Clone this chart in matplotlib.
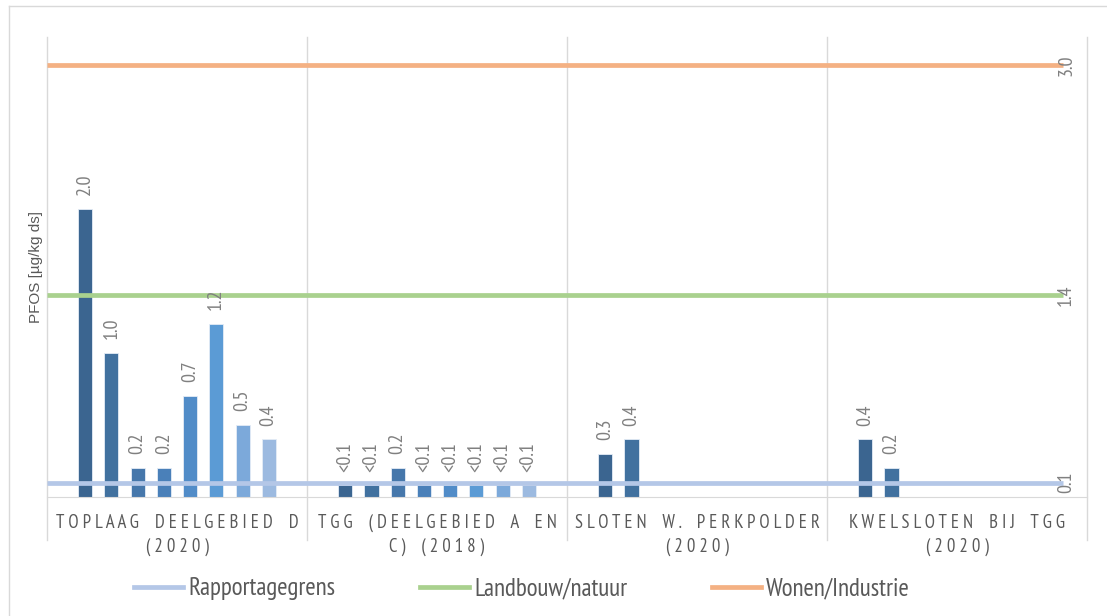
import numpy as np
import matplotlib
matplotlib.use('Agg')
import matplotlib.pyplot as plt
from matplotlib.lines import Line2D

narrow = ['PT Sans Narrow', 'Liberation Sans Narrow', 'Liberation Sans', 'DejaVu Sans']
plt.rcParams['font.family'] = narrow

categories = ['TOPLAAG DEELGEBIED D\n(2020)', 'TGG (DEELGEBIED A EN\nC) (2018)',
              'SLOTEN W. PERKPOLDER\n(2020)', 'KWELSLOTEN BIJ TGG\n(2020)']
# bar values per category (one entry per monster / series)
values = [
    [2.0, 1.0, 0.2, 0.2, 0.7, 1.2, 0.5, 0.4],
    [0.08, 0.08, 0.2, 0.08, 0.08, 0.08, 0.08, 0.08],
    [0.3, 0.4],
    [0.4, 0.2],
]
labels = [
    ['2.0', '1.0', '0.2', '0.2', '0.7', '1.2', '0.5', '0.4'],
    ['<0.1', '<0.1', '0.2', '<0.1', '<0.1', '<0.1', '<0.1', '<0.1'],
    ['0.3', '0.4'],
    ['0.4', '0.2'],
]
thresholds = [0.1, 1.4, 3.0]
threshold_names = ['Rapportagegrens', 'Landbouw/natuur', 'Wonen/Industrie']
threshold_labels = ['0.1', '1.4', '3.0']

bar_colors = ['#3B6590', '#41719F', '#4677AB', '#4A80B9', '#518CC8', '#5B9BD5', '#7CA9DA', '#9CBAE0']
line_colors = ['#B4C7E7', '#A9D18E', '#F4B183']
grid_col = '#D9D9D9'

fig = plt.figure(figsize=(11.07, 6.16), dpi=100)
ax = fig.add_axes([47/1107, 1-497/616, 1040/1107, 460/616])

slot = 0.1008
bw = 0.054
for i, vals in enumerate(values):
    for j, v in enumerate(vals):
        x = i + (j - 3.5) * slot
        ax.bar(x, v, width=bw, color=bar_colors[j], edgecolor='#E4ECF6', linewidth=0.6, zorder=2)
        ax.annotate(labels[i][j], (x, v), xytext=(0, 10), textcoords='offset points',
                    rotation=90, ha='center', va='bottom', fontsize=14.5, color='#808080',
                    zorder=5)

for y, c, lab in zip(thresholds, line_colors, threshold_labels):
    ax.hlines(y, -0.5, 3.408, color=c, linewidth=3.4, zorder=3)
    ax.text(3.42, y, lab, rotation=90, ha='center', va='center', fontsize=14.5, color='#808080')

# category separators
xt = ax.get_xaxis_transform()
for x in np.arange(-0.5, 4, 1):
    ax.plot([x, x], [-0.0935, 1], color=grid_col, linewidth=1, transform=xt, clip_on=False, zorder=1)

def spread(line):
    return '    '.join(' '.join(word) for word in line.split(' '))

for i, cat in enumerate(categories):
    spaced = '\n'.join(spread(line) for line in cat.split('\n'))
    ax.text(i, -0.082, spaced, transform=xt, ha='center', va='center', fontsize=13.5,
            color='#595959', linespacing=1.4)

ax.set_xlim(-0.5, 3.5)
ax.set_ylim(0, 3.194)
for s in ['top', 'right', 'left']:
    ax.spines[s].set_visible(False)
ax.spines['bottom'].set_color(grid_col)
ax.set_xticks([])
ax.set_yticks([])
ax.set_ylabel('PFOS [µg/kg ds]', family=['Liberation Sans', 'DejaVu Sans'], fontsize=11,
              color='#595959', labelpad=3)

handles = [Line2D([0], [0], color=c, linewidth=3.4) for c in line_colors]
fig.legend(handles, threshold_names, loc='center', bbox_to_anchor=(522/1107, 27/616), ncol=3,
           frameon=False, fontsize=18, handlelength=1.95, columnspacing=3.4, handletextpad=0.2,
           labelcolor='#595959')

# outer chart frame
fig.add_artist(Line2D([9/1107, 9/1107], [0, 1-6/616], color=grid_col, linewidth=1))
fig.add_artist(Line2D([9/1107, 1], [1-6/616, 1-6/616], color=grid_col, linewidth=1))

fig.savefig('out.png', dpi=100)
